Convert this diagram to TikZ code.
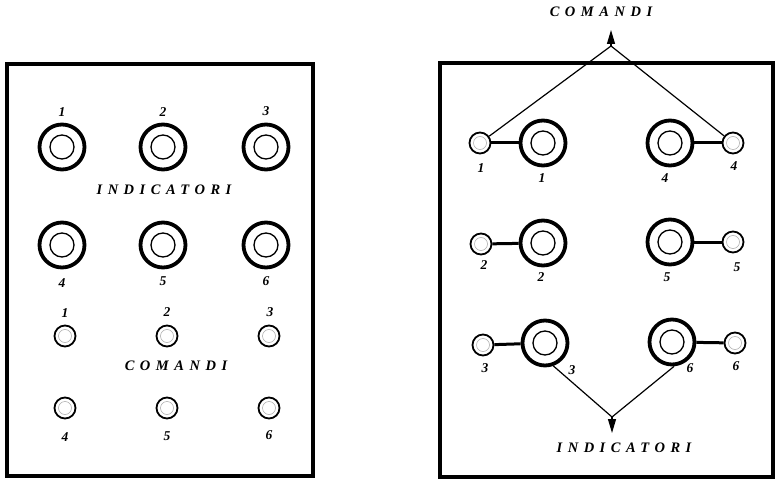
\documentclass[tikz,border=0pt]{standalone}
\usepackage{fontspec}
\setmainfont{Liberation Serif}
\newfontfamily\labfont{Liberation Serif}[LetterSpace=38]
\usetikzlibrary{arrows.meta}
\tikzset{
  panel/.style={draw, line width=4pt},
  bigjack/.style={circle, draw, line width=3.8pt, minimum size=45pt, inner sep=0pt,
    path picture={\draw[line width=1.3pt] (path picture bounding box.center) circle (12pt);}},
  smalljack/.style={circle, draw, fill=white, line width=1.8pt, minimum size=21pt, inner sep=0pt,
    path picture={\draw[line width=0.5pt, gray!70] (path picture bounding box.center) circle (6.5pt);}},
  num/.style={font=\fontsize{13.5}{13.5}\selectfont\bfseries\itshape, inner sep=0pt},
  title/.style={font=\fontsize{14.5}{14.5}\selectfont\labfont\bfseries\itshape, inner sep=0pt},
  link/.style={line width=3pt},
  wire/.style={line width=1.2pt},
  tip/.style={line width=1.2pt, -{Triangle[length=14pt,width=8pt]}}
}
\begin{document}
\begin{tikzpicture}[x=1pt,y=-1pt]
\useasboundingbox (0,0) rectangle (776,481);
% ---------- left panel ----------
\draw[panel] (7,64) rectangle (313,476);
\node[bigjack] (LI1) at (62,147) {};
\node[bigjack] (LI2) at (163,147) {};
\node[bigjack] (LI3) at (266,147) {};
\node[bigjack] (LI4) at (62,245) {};
\node[bigjack] (LI5) at (163,245) {};
\node[bigjack] (LI6) at (266,245) {};
\node[num] (lLI1) at (62,112) {1};
\node[num] (lLI2) at (163,112) {2};
\node[num] (lLI3) at (266,111) {3};
\node[num] (lLI4) at (62,283) {4};
\node[num] (lLI5) at (163,281) {5};
\node[num] (lLI6) at (266,281) {6};
\node[title] (Lind) at (164,190) {INDICATORI};
\node[smalljack] (LC1) at (65,336) {};
\node[smalljack] (LC2) at (167,336) {};
\node[smalljack] (LC3) at (269,336) {};
\node[smalljack] (LC4) at (65,408) {};
\node[smalljack] (LC5) at (167,408) {};
\node[smalljack] (LC6) at (269,408) {};
\node[num] (lLC1) at (65,313) {1};
\node[num] (lLC2) at (167,312) {2};
\node[num] (lLC3) at (270,312) {3};
\node[num] (lLC4) at (65,437) {4};
\node[num] (lLC5) at (167,436) {5};
\node[num] (lLC6) at (269,435) {6};
\node[title] (Lcom) at (176,366) {COMANDI};
% ---------- right panel ----------
\draw[panel] (440,63) rectangle (773,477);
\node[smalljack] (S1) at (480,143) {};
\node[bigjack]   (B1) at (543,143) {};
\node[bigjack]   (B4) at (670,143) {};
\node[smalljack] (S4) at (733,143) {};
\node[smalljack] (S2) at (481,244) {};
\node[bigjack]   (B2) at (543,243) {};
\node[bigjack]   (B5) at (670,242) {};
\node[smalljack] (S5) at (733,242) {};
\node[smalljack] (S3) at (483,345) {};
\node[bigjack]   (B3) at (545,343) {};
\node[bigjack]   (B6) at (672,342) {};
\node[smalljack] (S6) at (735,343) {};
\draw[link] (S1) -- (B1);
\draw[link] (B4) -- (S4);
\draw[link] (S2) -- (B2);
\draw[link] (B5) -- (S5);
\draw[link] (S3) -- (B3);
\draw[link] (B6) -- (S6);
\node[num] (lS1) at (481,168) {1};
\node[num] (lB1) at (542,178) {1};
\node[num] (lB4) at (665,178) {4};
\node[num] (lS4) at (734,166) {4};
\node[num] (lS2) at (484,265) {2};
\node[num] (lB2) at (541,277) {2};
\node[num] (lB5) at (667,277) {5};
\node[num] (lS5) at (737,267) {5};
\node[num] (lS3) at (485,368) {3};
\node[num] (lB3) at (572,370) {3};
\node[num] (lB6) at (690,368) {6};
\node[num] (lS6) at (736,366) {6};
% top: COMANDI
\coordinate (topA) at (611,46);
\coordinate (topT) at (611,30);
\draw[wire] (S1) -- (topA) -- (S4);
\draw[tip] (topA) -- (topT);
\node[title] (Rcom) at (601,12) {COMANDI};
% bottom: INDICATORI
\coordinate (botA) at (612,417);
\coordinate (botT) at (612,433);
\draw[wire] (B3.-70) -- (botA) -- (B6.-85);
\draw[tip] (botA) -- (botT);
\node[title] (Rind) at (624,448) {INDICATORI};
\end{tikzpicture}
\end{document}
